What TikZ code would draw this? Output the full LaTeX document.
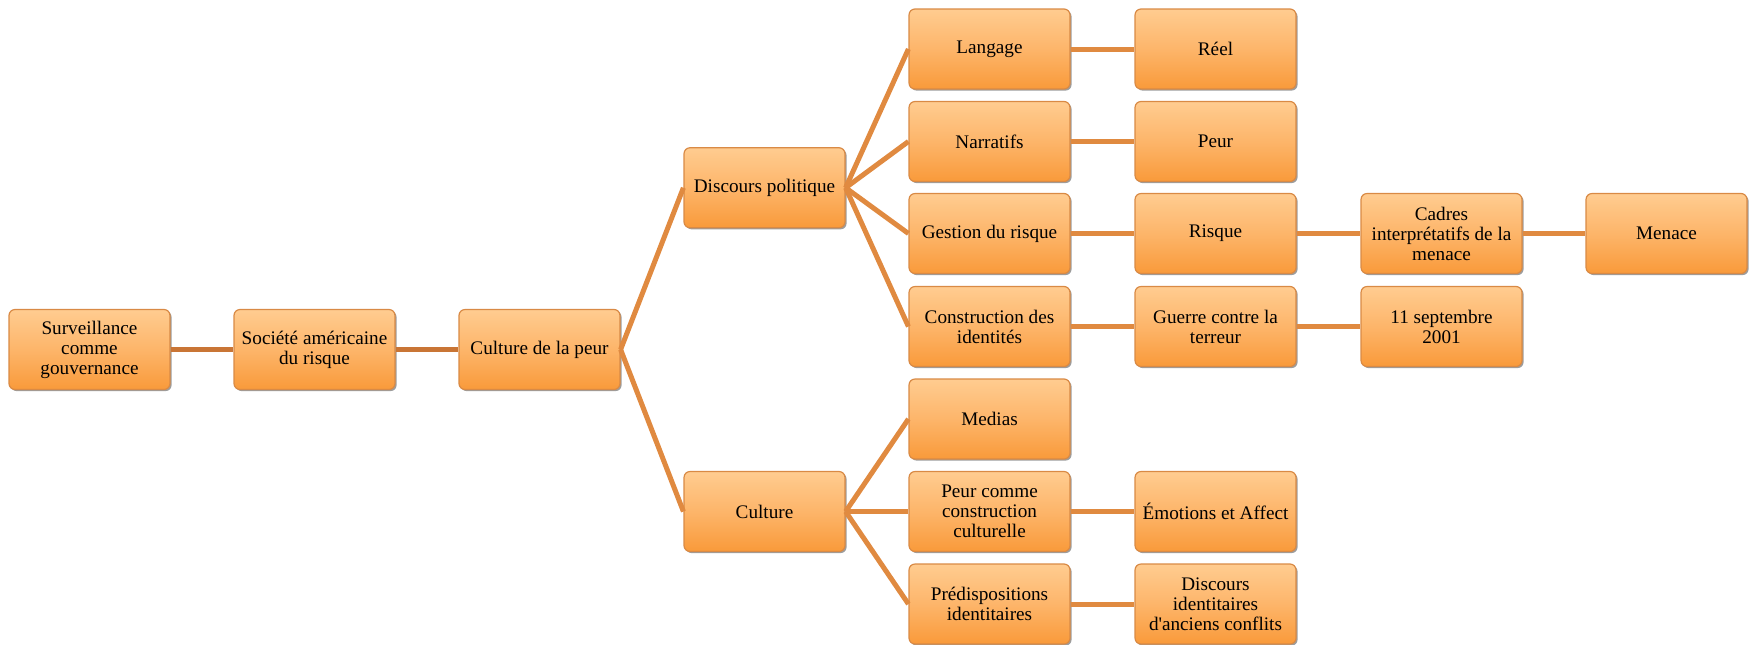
\documentclass[tikz,border=0pt]{standalone}
\usepackage{fontspec}
\setmainfont[Ligatures=TeXOff]{Liberation Serif}
\usetikzlibrary{shadows}
\definecolor{boxtop}{HTML}{FFCC90}
\definecolor{boxmid}{HTML}{FDB56A}
\definecolor{boxbot}{HTML}{F99A3A}
\definecolor{boxedge}{HTML}{D98A45}
\definecolor{linkc}{HTML}{E08A40}
\definecolor{linkd}{HTML}{C97535}
\tikzset{
  box/.style={rectangle, rounded corners=3pt, minimum width=80.5pt, minimum height=40pt,
    top color=boxtop, bottom color=boxbot, middle color=boxmid, draw=boxedge, line width=0.6pt,
    align=center, inner sep=1pt, font=\fontsize{9.6}{10}\selectfont, text=black,
    drop shadow={shadow xshift=0.8pt, shadow yshift=-0.8pt, opacity=0.55, fill=black!70}},
  link/.style={draw=linkc, line width=2.5pt},
  linkdark/.style={draw=linkd, line width=2.5pt}
}
\begin{document}
\begin{tikzpicture}[x=0.5pt,y=-0.5pt]
\useasboundingbox (0,0) rectangle (1750,644);
% column 1-3
\node[box] (surv) at (89.5,349.5) {Surveillance\\comme\\gouvernance};
\node[box] (soc) at (314.5,349.5) {Société américaine\\du risque};
\node[box] (cult) at (539.5,349.5) {Culture de la peur};
% column 4
\node[box] (dp) at (764.5,187.75) {Discours politique};
\node[box] (cu) at (764.5,511.5) {Culture};
% column 5
\node[box] (lang) at (989.5,49) {Langage};
\node[box] (narr) at (989.5,141.5) {Narratifs};
\node[box] (gest) at (989.5,233.5) {Gestion du risque};
\node[box] (cons) at (989.5,326.5) {Construction des\\identités};
\node[box] (med) at (989.5,419) {Medias};
\node[box] (pcc) at (989.5,511.5) {Peur comme\\construction\\culturelle};
\node[box] (pred) at (989.5,604) {Prédispositions\\identitaires};
% column 6
\node[box] (reel) at (1215.5,49) {Réel};
\node[box] (peur) at (1215.5,141.5) {Peur};
\node[box] (risq) at (1215.5,233.5) {Risque};
\node[box] (guer) at (1215.5,326.5) {Guerre contre la\\terreur};
\node[box] (emo) at (1215.5,511.5) {Émotions et Affect};
\node[box] (disc) at (1215.5,604) {Discours\\identitaires\\d'anciens conflits};
% column 7-8
\node[box] (cadr) at (1441.5,233.5) {Cadres\\interprétatifs de la\\menace};
\node[box] (sept) at (1441.5,326.5) {11 septembre\\2001};
\node[box] (men) at (1666.5,233.5) {Menace};
% connectors
\draw[linkdark] (surv.east) -- (soc.west);
\draw[linkdark] (soc.east) -- (cult.west);
\draw[link] (cult.east) -- (dp.west);
\draw[link] (cult.east) -- (cu.west);
\foreach \c in {lang,narr,gest,cons} \draw[link] (dp.east) -- (\c.west);
\foreach \c in {med,pcc,pred} \draw[link] (cu.east) -- (\c.west);
\draw[link] (lang.east) -- (reel.west);
\draw[link] (narr.east) -- (peur.west);
\draw[link] (gest.east) -- (risq.west);
\draw[link] (cons.east) -- (guer.west);
\draw[link] (pcc.east) -- (emo.west);
\draw[link] (pred.east) -- (disc.west);
\draw[link] (risq.east) -- (cadr.west);
\draw[link] (guer.east) -- (sept.west);
\draw[link] (cadr.east) -- (men.west);
\end{tikzpicture}
\end{document}
